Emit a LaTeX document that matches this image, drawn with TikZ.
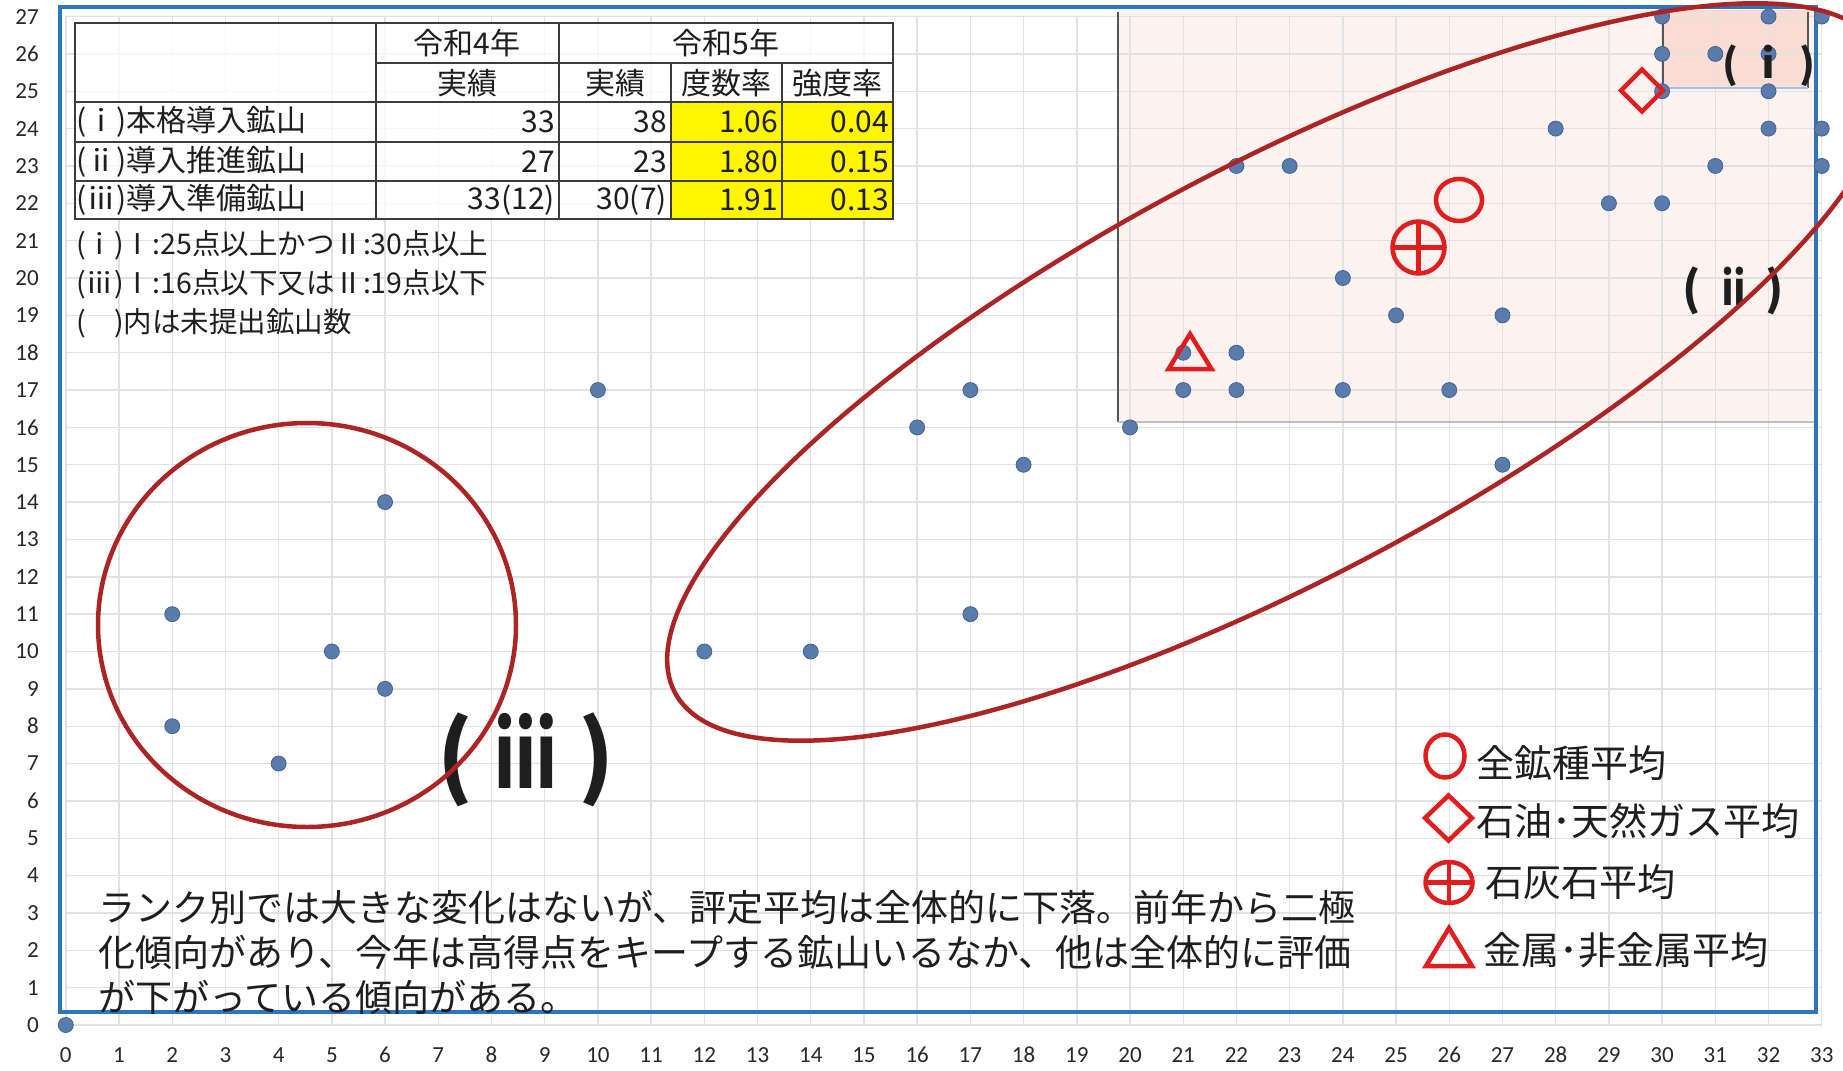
\documentclass[tikz,border=0pt]{standalone}
\usepackage{fontspec}
\setmainfont{Noto Sans CJK JP}
\newfontfamily\jp{Noto Sans CJK JP}
\newfontfamily\axf{Carlito}
\definecolor{gridc}{RGB}{226,226,226}
\definecolor{frameblue}{RGB}{46,117,190}
\definecolor{dotblue}{RGB}{90,124,172}
\definecolor{dotedge}{RGB}{66,98,145}
\definecolor{ringred}{RGB}{172,36,36}
\definecolor{mred}{RGB}{225,30,30}
\definecolor{pinkA}{RGB}{252,242,239}
\definecolor{pinkB}{RGB}{249,220,212}
\definecolor{yel}{RGB}{255,245,0}
\definecolor{txt}{RGB}{30,30,30}
\definecolor{axc}{RGB}{40,40,40}
\definecolor{tline}{RGB}{60,60,60}
\definecolor{darkln}{RGB}{85,85,85}
\definecolor{lightln}{RGB}{190,190,190}
\definecolor{lblue}{RGB}{160,195,230}
\tikzset{
  gridline/.style={draw=gridc, line width=1.4},
  tbl/.style={draw=tline, line width=2},
  cell/.style={inner sep=0pt, text=txt, font={\jp\fontsize{30}{34}\selectfont}},
  hdr/.style={cell, anchor=center},
  num/.style={cell, anchor=east},
  note/.style={inner sep=0pt, anchor=west, text=txt, font={\jp\fontsize{28.5}{32}\selectfont}},
  para/.style={inner sep=0pt, anchor=west, text=txt, font={\jp\fontsize{37}{42}\selectfont}},
  leg/.style={inner sep=0pt, anchor=west, text=txt, font={\jp\fontsize{38}{42}\selectfont}},
  axl/.style={inner sep=0pt, text=axc, font={\axf\fontsize{23}{26}\selectfont}},
  grp/.style={inner sep=0pt, text=txt},
  ring/.style={draw=ringred, line width=4.5},
  mk/.style={draw=mred, line width=4.5, line join=miter},
  dot/.style={fill=dotblue, draw=dotedge, line width=0.8},
}
\begin{document}
\begin{tikzpicture}[x=1pt,y=-1pt]
\useasboundingbox (0,0) rectangle (1843,1070);
\clip (0,0) rectangle (1843,1070);
\fill[white] (0,0) rectangle (1843,1070);
% shaded zones
\fill[pinkA] (1118,10) rectangle (1816,422);
\fill[pinkB] (1663,10) rectangle (1808,88);
% grid
\begin{scope}[shift={(65.8,1025)}, x=53.21pt, y=37.35pt]
  \foreach \i in {0,...,33} \draw[gridline] (\i,0) -- (\i,27);
  \foreach \j in {0,...,27} \draw[gridline] (0,\j) -- (33,\j);
\end{scope}
% zone borders
\draw[draw=darkln, line width=2] (1118,12) -- (1118,422);
\draw[draw=lightln, line width=1.5] (1118,422) -- (1816,422);
\draw[draw=darkln, line width=2] (1663,12) -- (1663,88);
\draw[draw=darkln, line width=2] (1808,12) -- (1808,88);
\draw[draw=lblue, line width=2] (1663,88) -- (1808,88);
% frame
\draw[draw=frameblue, line width=3.5] (60,7) rectangle (1816,1012);
% table
\fill[white, opacity=0.75] (75,23) rectangle (893,219);
\fill[yel] (671,102) rectangle (893,219);
\draw[tbl] (75,23) rectangle (893,219);
\draw[tbl] (376,63) -- (893,63);
\foreach \yy in {102,142,181} \draw[tbl] (75,\yy) -- (893,\yy);
\draw[tbl] (376,23) -- (376,219);
\draw[tbl] (559,23) -- (559,219);
\draw[tbl] (671,63) -- (671,219);
\draw[tbl] (782,63) -- (782,219);
\node[hdr] (h4) at (467,43) {令和4年};
\node[hdr] (h5) at (726,43) {令和5年};
\node[hdr] (h4a) at (467,83) {実績};
\node[hdr] (h5a) at (615,83) {実績};
\node[hdr] (h5b) at (726.5,83) {度数率};
\node[hdr] (h5c) at (837.5,83) {強度率};
\node[cell, anchor=west] (r1) at (76,122) {(ⅰ)本格導入鉱山};
\node[cell, anchor=west] (r2) at (76,161.5) {(ⅱ)導入推進鉱山};
\node[cell, anchor=west] (r3) at (76,200) {(ⅲ)導入準備鉱山};
\node[num] (r1a) at (555,122) {33};
\node[num] (r1b) at (667,122) {38};
\node[num] (r1c) at (778,122) {1.06};
\node[num] (r1d) at (889,122) {0.04};
\node[num] (r2a) at (555,161.5) {27};
\node[num] (r2b) at (667,161.5) {23};
\node[num] (r2c) at (778,161.5) {1.80};
\node[num] (r2d) at (889,161.5) {0.15};
\node[num] (r3a) at (555,200) {33(12)};
\node[num] (r3b) at (667,200) {30(7)};
\node[num] (r3c) at (778,200) {1.91};
\node[num] (r3d) at (889,200) {0.13};
% notes
\node[note] (n1) at (76,245) {(ⅰ)Ⅰ:25点以上かつⅡ:30点以上};
\node[note] (n2) at (76,284) {(ⅲ)Ⅰ:16点以下又はⅡ:19点以下};
\node[note] (n3) at (76,323) {(　)内は未提出鉱山数};
% data points
\begin{scope}[shift={(65.8,1025)}, x=53.21pt, y=37.35pt]
  \foreach \a/\b in {30/27,32/27,33/27,30/26,31/26,32/26,30/25,32/25,28/24,32/24,33/24,
    22/23,23/23,31/23,33/23,29/22,30/22,24/20,25/19,27/19,21/18,22/18,
    21/17,22/17,24/17,26/17,20/16,10/17,17/17,16/16,18/15,27/15,17/11,
    12/10,14/10,2/11,2/8,4/7,5/10,6/9,6/14,0/0}
    \path[dot] (\a,\b) circle[radius=7.5pt];
\end{scope}
% group labels
\node[grp, font={\jp\bfseries\fontsize{90}{96}\selectfont}] (g3) at (526,760)
  {(\hspace{0.22em}\scalebox{0.72}[1]{ⅲ}\hspace{0.22em})};
\node[grp, font={\jp\bfseries\fontsize{46}{50}\selectfont}] (g2) at (1733.5,291)
  {(\hspace{0.3em}\scalebox{0.8}[1]{ⅱ}\hspace{0.3em})};
\node[grp, font={\jp\bfseries\fontsize{40}{44}\selectfont}] (g1) at (1769,66)
  {(\hspace{0.26em}ⅰ\hspace{0.26em})};
% rings
\draw[ring] (307,625) ellipse [x radius=209, y radius=202];
\draw[ring, shift={(1278,372)}, rotate=28] (0,0) ellipse [x radius=683, y radius=206];
% averages in plot
\draw[mk] (1459,200) ellipse [x radius=23, y radius=21];
\draw[mk] (1418.5,247.5) circle [radius=26];
\draw[mk] (1418.5,221.5) -- (1418.5,273.5) (1392.5,247.5) -- (1444.5,247.5);
\draw[mk] (1642,69.5) -- (1663,90.5) -- (1642,111.5) -- (1621,90.5) -- cycle;
\draw[mk] (1190,334) -- (1211.5,369) -- (1168.5,369) -- cycle;
% legend
\draw[mk] (1445,756) ellipse [x radius=19.5, y radius=21.5];
\draw[mk] (1448.5,795.5) -- (1472,818) -- (1448.5,840.5) -- (1425,818) -- cycle;
\draw[mk] (1449,882.5) ellipse [x radius=23.5, y radius=20.5];
\draw[mk] (1449,862) -- (1449,903) (1425.5,882.5) -- (1472.5,882.5);
\draw[mk] (1449,928) -- (1472,966) -- (1426,966) -- cycle;
\node[leg] (l1) at (1476,763) {全鉱種平均};
\node[leg] (l2) at (1476,821) {石油･天然ガス平均};
\node[leg] (l3) at (1485,882) {石灰石平均};
\node[leg] (l4) at (1483,950) {金属･非金属平均};
% paragraph
\node[para] (p1) at (98,907) {ランク別では大きな変化はないが、評定平均は全体的に下落。前年から二極};
\node[para] (p2) at (98,952) {化傾向があり、今年は高得点をキープする鉱山いるなか、他は全体的に評価};
\node[para] (p3) at (98,997) {が下がっている傾向がある。};
% axes labels
\foreach \j in {0,...,27} \node[axl, anchor=east] (ya\j) at (39,{1025-37.35*\j}) {\j};
\foreach \i in {0,...,33} \node[axl] (xa\i) at ({65.8+53.21*\i},1055) {\i};
\end{tikzpicture}
\end{document}
